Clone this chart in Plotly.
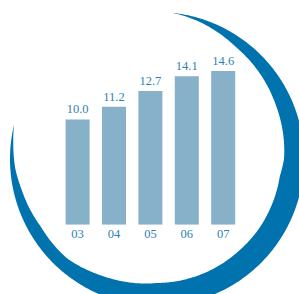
import numpy as np
import plotly.graph_objects as go

# ---- data ----
years = ["03", "04", "05", "06", "07"]
values = [10.0, 11.2, 12.7, 14.1, 14.6]
value_labels = ["10.0", "11.2", "12.7", "14.1", "14.6"]

# ---- styling ----
W, H = 299, 294
BAR_COLOR = "#86b1c8"
TEXT_COLOR = "#2f7fb4"
SWOOSH_COLOR = "#0072ae"
FONT = "Liberation Serif, DejaVu Serif, serif"


def px(x, y):
    return x / W, 1 - y / H


# decorative crescent: outer circle arc, inner edge = arc minus tapering thickness
ocx, ocy, orad = 157, 159, 147
ang_deg = [-84, -73, -55, -24, 0, 8, 25, 33, 47, 90, 115, 132, 150, 168, 176, 186, 193.6]
thick = [0, 3.3, 10, 16.6, 20, 23, 23.5, 23.5, 24, 23, 18, 13, 12.5, 8, 5, 2.5, 0]


def crescent_path():
    th = np.linspace(ang_deg[0], ang_deg[-1], 400)
    t = np.interp(th, ang_deg, thick)
    rad = np.radians(th)
    outer = [(ocx + orad * np.cos(a), ocy + orad * np.sin(a)) for a in rad]
    inner = [(ocx + (orad - tt) * np.cos(a), ocy + (orad - tt) * np.sin(a))
             for a, tt in zip(rad[::-1], t[::-1])]
    pts = [px(*p) for p in outer + inner]
    s = "M %.5f,%.5f " % pts[0]
    s += " ".join("L %.5f,%.5f" % p for p in pts[1:])
    return s + " Z"


fig = go.Figure(
    go.Bar(
        x=years,
        y=values,
        marker=dict(color=BAR_COLOR, line=dict(width=0)),
        text=value_labels,
        textposition="outside",
        textfont=dict(family=FONT, size=12.5, color=TEXT_COLOR),
        cliponaxis=False,
        hoverinfo="skip",
    )
)

fig.add_shape(type="path", xref="paper", yref="paper", path=crescent_path(),
              fillcolor=SWOOSH_COLOR, line=dict(width=0), layer="below")

fig.update_layout(
    width=W,
    height=H,
    margin=dict(l=0, r=0, t=0, b=0, pad=0),
    paper_bgcolor="white",
    plot_bgcolor="rgba(0,0,0,0)",
    showlegend=False,
    bargap=0.34,
    xaxis=dict(
        domain=[59.4 / W, 241.4 / W],
        showgrid=False, zeroline=False, showline=False, ticks="",
        tickfont=dict(family=FONT, size=12.5, color=TEXT_COLOR),
        fixedrange=True,
    ),
    yaxis=dict(
        domain=[1 - 224.7 / H, 1 - 14.1 / H],
        range=[0, 20],
        showgrid=False, zeroline=False, showline=False, showticklabels=False, ticks="",
        fixedrange=True,
    ),
)

fig.write_html(
    "out.html",
    config={"displayModeBar": False},
    post_script="document.body.style.margin='0';document.body.style.overflow='hidden';",
)
